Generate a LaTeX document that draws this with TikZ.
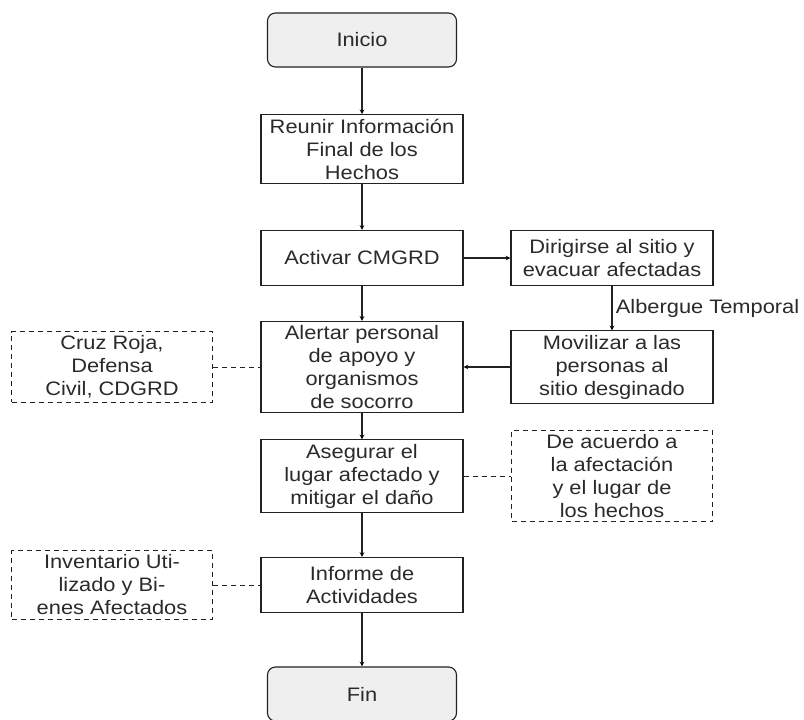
\documentclass[tikz,border=0pt]{standalone}
\usepackage{fontspec}
\setmainfont[FakeStretch=1.12]{Liberation Sans}
\usepackage{tikz}
\usetikzlibrary{shapes.geometric, arrows.meta, positioning, arrows}
\definecolor{txtgray}{HTML}{2A2A2A}
\definecolor{linegray}{HTML}{222222}
\definecolor{termfill}{HTML}{EFEFEF}
\tikzset{
    startstop/.style={rectangle, rounded corners=8pt, minimum width=189pt, minimum height=54pt, text centered, draw=linegray, fill=termfill, line width=1.1pt},
    process/.style={rectangle, minimum width=202pt, minimum height=55pt, inner xsep=2pt, inner ysep=4pt, align=center, draw=linegray, line width=1.1pt},
    note/.style={rectangle, minimum width=201pt, minimum height=55pt, inner xsep=2pt, inner ysep=4pt, align=center, draw=linegray, dashed, dash pattern=on 5pt off 4pt, line width=1pt},
    arrow/.style={line width=1.1pt, draw=linegray, ->, >=stealth},
    link/.style={line width=1pt, draw=linegray, dash pattern=on 5pt off 4pt},
}

\begin{document}
\begin{tikzpicture}[x=1pt,y=1pt,node distance=109pt,font=\fontsize{19.5}{23}\selectfont,text=txtgray]
  \useasboundingbox (0,0) rectangle (804,-720);
  \node[startstop] (ini) at (362,-40) {Inicio};
  \node[process]   (reu) [below of=ini] {Reunir Información\\Final de los\\Hechos};
  \node[process]   (act) [below of=reu] {Activar CMGRD};
  \node[process]   (dir) [node distance=250pt, right of=act] {Dirigirse al sitio y\\evacuar afectadas};
  \node[process]   (mov) [below of=dir] {Movilizar a las\\personas al\\sitio desginado};
  \node[process]   (ale) [below of=act] {Alertar personal\\de apoyo y\\organismos\\de socorro};
  \node[note]      (cruz) [node distance=250pt, left of=ale] {Cruz Roja,\\Defensa\\Civil, CDGRD};
  \node[process]   (ase) [below of=ale] {Asegurar el\\lugar afectado y\\mitigar el daño};
  \node[note]      (acu) [node distance=250pt, right of=ase] {De acuerdo a\\la afectación\\y el lugar de\\los hechos};
  \node[process]   (inf) [below of=ase] {Informe de\\Actividades};
  \node[note]      (inv) [node distance=250pt, left of=inf] {Inventario Uti-\\lizado y Bi-\\enes Afectados};
  \node[startstop] (fin) [below of=inf] {Fin};

  \path[arrow]  (ini) edge (reu);
  \path[arrow]  (reu) edge (act);
  \path[arrow]  (act) edge (dir);
  \path[arrow]  (dir) edge node[right, text=txtgray] {Albergue Temporal} (mov);
  \path[arrow]  (mov) edge (ale);
  \path[arrow]  (act) edge (ale);
  \path[arrow]  (ale) edge (ase);
  \path[arrow]  (ase) edge (inf);
  \path[arrow]  (inf) edge (fin);
  \path[link]   (cruz) edge (ale);
  \path[link]   (ase) edge (acu);
  \path[link]   (inv) edge (inf);
\end{tikzpicture}
\end{document}
